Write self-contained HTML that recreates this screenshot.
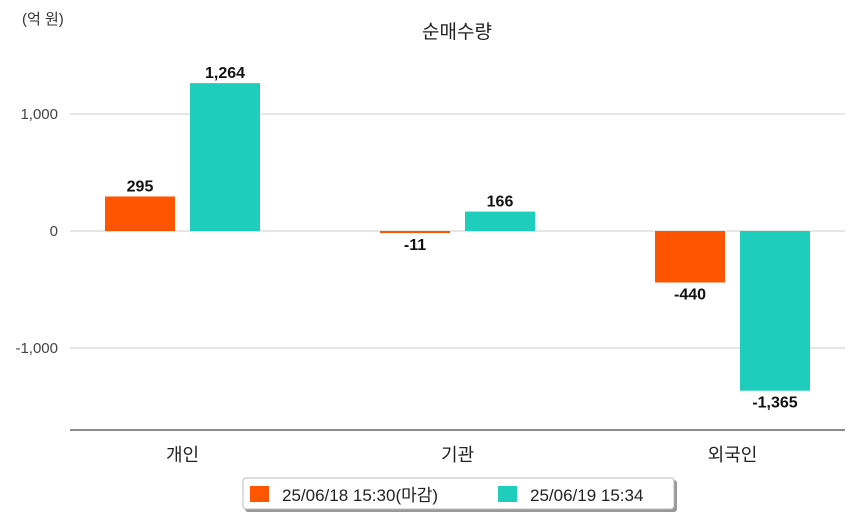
<!DOCTYPE html>
<html><head><meta charset="utf-8"><style>
body{margin:0;background:#fff;font-family:"Liberation Sans","Noto Sans CJK KR",sans-serif}
svg text{font-family:"Liberation Sans","Noto Sans CJK KR",sans-serif}
</style></head><body>
<svg id="c" width="854" height="520" xmlns="http://www.w3.org/2000/svg">
<text x="22" y="24" font-size="15" fill="#333">(억 원)</text>
<text x="457" y="38" font-size="19" fill="#222" text-anchor="middle">순매수량</text>
<g id="grid"></g><g id="bars"></g>
<line x1="70" y1="430" x2="845" y2="430" stroke="#666" stroke-width="1.5"/>
<g>
<rect x="245" y="480" width="432" height="32" fill="#999" rx="3"/>
<rect x="243" y="478" width="431" height="31" fill="#fff" stroke="#bbb" rx="3"/>
<rect x="250" y="486" width="19" height="16" fill="#ff5400"/>
<text x="282" y="501" font-size="17" fill="#222">25/06/18 15:30(마감)</text>
<rect x="498" y="486" width="19" height="16" fill="#1ecdbc"/>
<text x="530" y="501" font-size="17" fill="#222">25/06/19 15:34</text>
</g>
</svg>
<script>
const categories=["개인","기관","외국인"];
const series1=[295,-11,-440];
const series2=[1264,166,-1365];
const labels1=["295","-11","-440"];
const labels2=["1,264","166","-1,365"];
const ticks=[1000,0,-1000];
const tickLabels=["1,000","0","-1,000"];
const NS="http://www.w3.org/2000/svg";
const y=v=>231-v*0.117;
const cx=i=>182.5+i*275;
function mk(t,a,p){const e=document.createElementNS(NS,t);for(const k in a)e.setAttribute(k,a[k]);p.appendChild(e);return e;}
const g=document.getElementById('grid'),b=document.getElementById('bars');
ticks.forEach((t,i)=>{
 const l=mk('line',{x1:70,x2:845,y1:y(t),y2:y(t),stroke:'#ccc'},g);
 
 
 const tx=mk('text',{x:58,y:y(t)+5,'font-size':15,fill:'#444','text-anchor':'end'},g);tx.textContent=tickLabels[i];
 
 
});
function bar(v,lab,x,col,name){
 const top=Math.min(y(v),y(0)),h=Math.max(Math.abs(y(v)-y(0)),2);
 const r=mk('rect',{x:x,y:top,width:70,height:h,fill:col},b);
 
 
 const ly=v>=0?top-5:top+h+17;
 const t=mk('text',{x:x+35,y:ly,'font-size':16,'font-weight':'bold',fill:'#111','text-anchor':'middle'},b);t.textContent=lab;
 
 
}
categories.forEach((c,i)=>{
 bar(series1[i],labels1[i],cx(i)-77.5,'#ff5400','bar-0618-'+i);
 bar(series2[i],labels2[i],cx(i)+7.5,'#1ecdbc','bar-0619-'+i);
 const t=mk('text',{x:cx(i),y:461,'font-size':18,fill:'#222','text-anchor':'middle'},b);t.textContent=c;
 
 
});
</script>
</body></html>
